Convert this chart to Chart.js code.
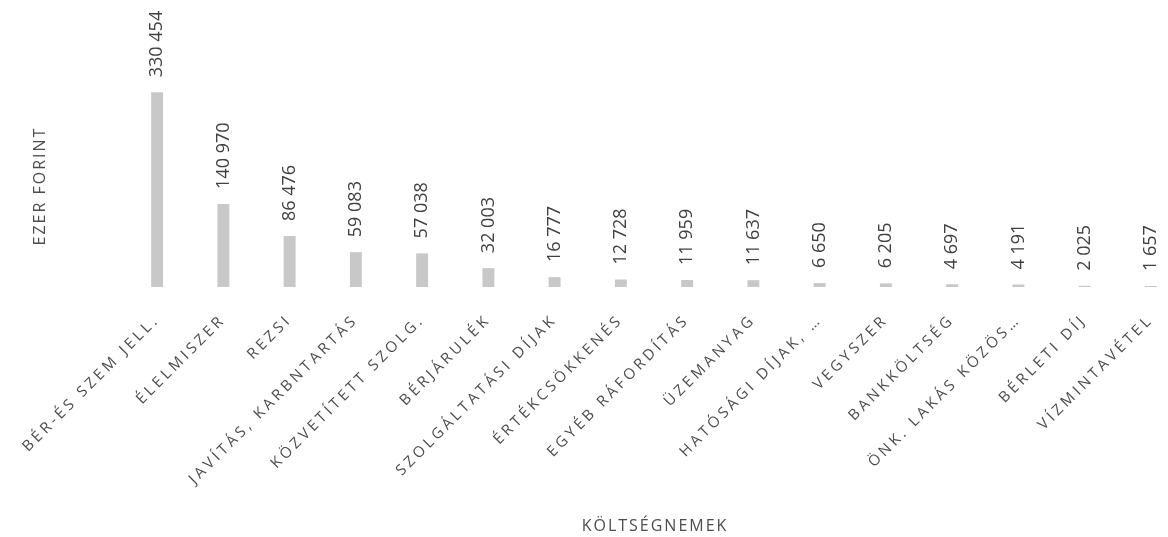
<!DOCTYPE html>
<html>
<head>
<meta charset="utf-8">
<script src="https://cdn.jsdelivr.net/npm/chart.js@4.4.1/dist/chart.umd.min.js"></script>
<style>
    html, body { margin: 0; padding: 0; background: #fff; overflow: hidden; }
    #wrap { width: 1190px; height: 537px; }
</style>
</head>
<body>
<div id="wrap"><canvas id="chart"></canvas></div>
<script>
// Költségnemek (ezer forint)
const categories = [
    'BÉR-ÉS SZEM JELL.', 'ÉLELMISZER', 'REZSI', 'JAVÍTÁS, KARBNTARTÁS',
    'KÖZVETÍTETT SZOLG.', 'BÉRJÁRULÉK', 'SZOLGÁLTATÁSI DÍJAK', 'ÉRTÉKCSÖKKENÉS',
    'EGYÉB RÁFORDÍTÁS', 'ÜZEMANYAG', 'HATÓSÁGI DÍJAK, …', 'VEGYSZER',
    'BANKKÖLTSÉG', 'ÖNK. LAKÁS KÖZÖS…', 'BÉRLETI DÍJ', 'VÍZMINTAVÉTEL'
];
const values = [
    330454, 140970, 86476, 59083, 57038, 32003, 16777, 12728,
    11959, 11637, 6650, 6205, 4697, 4191, 2025, 1657
];
const xTitle = 'KÖLTSÉGNEMEK';
const yTitle = 'EZER FORINT';

const textColor = '#4d4d4d';
const fontFamily = '"Open Sans", sans-serif';

// 330454 -> "330 454"
const formatValue = (v) => String(v).replace(/\B(?=(\d{3})+(?!\d))/g, ' ');

// Ritkított betűköz a tengelyfeliratokhoz, értékcímkék és tengelycímek kézzel
const spacedText = {
    id: 'spacedText',
    beforeLayout(chart) { chart.ctx.letterSpacing = '3.5px'; },
    beforeDraw(chart) { chart.ctx.letterSpacing = '3.5px'; },
    afterDatasetsDraw(chart) {
        const ctx = chart.ctx;
        ctx.save();
        ctx.fillStyle = '#404040';
        ctx.letterSpacing = '0px';
        ctx.font = `18px ${fontFamily}`;
        ctx.textAlign = 'left';
        ctx.textBaseline = 'middle';
        chart.getDatasetMeta(0).data.forEach((bar, i) => {
            ctx.save();
            ctx.translate(bar.x, bar.y - 15);
            ctx.rotate(-Math.PI / 2);
            ctx.fillText(formatValue(values[i]), 0, 0);
            ctx.restore();
        });

        ctx.fillStyle = textColor;
        ctx.textAlign = 'center';
        ctx.letterSpacing = '2px';
        ctx.font = `16px ${fontFamily}`;
        ctx.fillText(xTitle, 655, 526);

        ctx.translate(40, 186);
        ctx.rotate(-Math.PI / 2);
        ctx.fillText(yTitle, 0, 0);
        ctx.restore();
    }
};

new Chart(document.getElementById('chart'), {
    type: 'bar',
    data: {
        labels: categories,
        datasets: [
            {
                label: 'Ezer forint',
                data: values,
                backgroundColor: '#c8c8c8',
                borderWidth: 0,
                barPercentage: 0.18,
                categoryPercentage: 1
            }
        ]
    },
    options: {
        animation: false,
        responsive: true,
        maintainAspectRatio: false,
        layout: { padding: { top: 10, left: 124, right: 6, bottom: 30 } },
        scales: {
            x: {
                grid: { display: false, drawTicks: false },
                border: { display: false },
                ticks: {
                    autoSkip: false,
                    minRotation: 45,
                    maxRotation: 45,
                    padding: 24,
                    color: textColor,
                    font: { family: fontFamily, size: 15 }
                },
                afterFit: (scale) => {
                    scale.height = 220;
                    scale.paddingLeft = 0;
                    scale.paddingRight = 0;
                }
            },
            y: {
                display: false,
                min: 0,
                max: 470000
            }
        },
        plugins: {
            legend: { display: false },
            tooltip: { enabled: false }
        }
    },
    plugins: [spacedText]
});
</script>
</body>
</html>
